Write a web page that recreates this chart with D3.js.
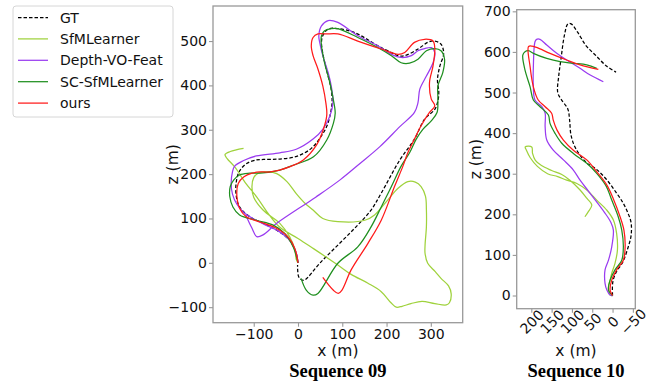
<!DOCTYPE html>
<html><head><meta charset="utf-8">
<script src="https://cdn.jsdelivr.net/npm/d3@7"></script>
<style>body{margin:0;background:#fff}svg{display:block}</style>
</head><body>
<svg id="chart" width="656" height="385"></svg>
<script>
// ---------- data ----------
const methods = ["GT", "SfMLearner", "Depth-VO-Feat", "SC-SfMLearner", "ours"];
const xTicks09 = [-100, 0, 100, 200, 300];
const zTicks09 = [-100, 0, 100, 200, 300, 400, 500];
const xTicks10 = [200, 150, 100, 50, 0, -50];
const zTicks10 = [0, 100, 200, 300, 400, 500, 600, 700];
const titles = ["Sequence 09", "Sequence 10"];

// Sequence 09 trajectories [x, z] in metres
const seq09_GT = [[0,0],[-4,21],[-19,51],[-49,74],[-79,89],[-109,104],[-132,126],[-140,155],[-139,185],[-132,207],[-116,224],[-94,232],[-78,233],[-41,234],[-3,240],[30,258],[52,285],[66,310],[74,340],[77,362],[75,391],[66,429],[57,467],[53,497],[56,512],[68,527],[90,528],[128,519],[181,489],[211,474],[226,467],[241,467],[271,482],[293,497],[309,500],[323,493],[329,472],[320,442],[315,412],[318,385],[316,365],[309,346],[286,324],[263,279],[230,232],[188,157],[165,119],[130,80],[90,40],[50,0],[14,-39],[6,-37],[1,-30],[-1,-5]];
const seq09_SfM = [[0,0],[-4,8],[-7,29],[-19,59],[-41,89],[-79,119],[-100,148],[-104,172],[-100,192],[-90,202],[-68,205],[-48,201],[-25,183],[-4,156],[15,135],[34,119],[56,100],[90,93],[151,96],[173,108],[203,142],[226,168],[248,183],[265,182],[278,172],[288,150],[290,120],[290,81],[287,40],[287,21],[293,-1],[310,-20],[323,-35],[340,-52],[346,-70],[342,-90],[335,-95],[309,-92],[280,-87],[255,-92],[235,-98],[222,-100],[210,-90],[188,-65],[158,-46],[120,-26],[90,-5],[35,32],[0,55],[-41,80],[-68,112],[-93,148],[-117,178],[-142,215],[-160,235],[-165,244],[-153,251],[-123,258]];
const seq09_DVF = [[0,0],[-4,22],[-18,50],[-45,72],[-75,86],[-102,100],[-122,113],[-138,132],[-148,155],[-151,180],[-148,205],[-143,218],[-124,230],[-94,241],[-41,248],[-4,256],[34,279],[56,301],[72,331],[79,361],[75,399],[68,429],[56,467],[49,497],[47,512],[53,534],[68,546],[90,542],[135,512],[181,489],[211,470],[233,463],[256,467],[271,478],[286,483],[301,485],[309,474],[305,451],[290,421],[275,391],[271,361],[263,339],[230,307],[185,262],[140,224],[95,187],[40,148],[-48,89],[-79,63],[-93,59],[-105,80],[-118,108]];
const seq09_SC = [[0,0],[-11,36],[-30,66],[-56,85],[-94,96],[-132,108],[-147,126],[-154,149],[-153,172],[-145,187],[-132,198],[-109,202],[-79,203],[-41,209],[-11,220],[35,239],[65,277],[80,315],[84,337],[80,367],[72,406],[60,451],[53,489],[53,512],[60,523],[75,528],[90,528],[135,508],[181,485],[211,467],[233,451],[252,450],[271,459],[290,478],[309,483],[323,478],[331,459],[327,429],[316,399],[316,369],[314,339],[301,320],[282,301],[267,279],[252,248],[233,218],[211,172],[188,126],[165,81],[135,36],[90,-1],[45,-69],[34,-73],[19,-62],[7,-35]];
const seq09_ours = [[0,0],[-7,32],[-23,59],[-49,78],[-86,92],[-117,104],[-132,123],[-138,149],[-135,179],[-122,194],[-104,202],[-86,205],[-63,205],[-18,217],[12,232],[42,266],[57,300],[65,333],[63,360],[56,399],[45,437],[34,467],[30,489],[34,508],[45,516],[64,516],[90,516],[135,500],[188,482],[226,470],[241,474],[263,497],[286,504],[305,500],[309,482],[305,444],[297,406],[301,369],[309,354],[297,339],[278,309],[263,279],[248,248],[237,218],[218,172],[188,96],[158,44],[120,-16],[99,-62],[91,-69],[80,-62],[56,-33]];

// Sequence 10 trajectories [x, z] in metres
const seq10_GT = [[0,0],[-0.5,32.5],[-8.6,57],[-25,82],[-37,114.5],[-45.5,147],[-45.5,180],[-37,205],[-25,229.5],[-8.6,254],[16,287],[40.6,311.6],[65,328],[90,361],[102,393.6],[106,434.7],[110,459],[127,484],[135,500],[132.5,541],[127,582.5],[118.7,640],[110,669],[102,669],[85.7,648],[65,615],[40.6,590.6],[16,566],[-8.6,550]];
const seq10_SfM = [[0,0],[6,1],[10,22],[6,38],[2,55],[-6,79],[-12,112],[-10,153],[-2,186],[14,210],[39,235],[63.5,260],[88,276],[113,284],[135,293],[160,300],[185,318],[203,340],[212,358],[215,366],[199,366],[197,350],[190,333],[175,320],[150,308],[125,298],[105,284],[80,260],[63,239],[51,223],[60,206],[68,194]];
const seq10_DVF = [[0,0],[6,1],[14,13.5],[18.5,30],[18.5,63],[10,87],[2,120],[-2,161],[4,180],[20,205],[40,232],[60,258],[80,284],[96.5,309],[121,334],[146,358],[162,383],[166,416],[166,449],[174,465],[191,481.5],[195,514],[195,563.5],[191,625],[187,631],[178.6,631],[162,617],[137.5,596.5],[113,580],[80,559.6],[55,543],[22.7,526.6]];
const seq10_SC = [[0,0],[10,13.5],[6,38],[-6,63],[-22.7,87],[-26.6,120],[-22.7,161],[-14,194],[2,235],[16,270],[39,301],[63.5,325.6],[96.5,350],[125,375],[141.6,399.5],[154,424],[158,444.6],[178.6,465],[195,481.5],[203,514],[215.5,555],[221,592],[215.5,600.5],[207,603],[195,596.5],[162,584],[129,576],[96.5,572],[63.5,568],[39,559.6]];
const seq10_ours = [[0,0],[6,13.5],[2,38],[-10,63],[-26.6,87],[-31,120],[-28,161],[-18.5,194],[-2,238],[14,272],[39,305],[63.5,334],[96.5,358],[121,383],[137,408],[146,432],[150,449],[166,465],[183,481.5],[195,514],[203,563.5],[207,613],[199,614.5],[187,611],[154,596.5],[113,580],[80,568],[35,557]];

// ---------- styles ----------
const colors = {"GT":"#000000","SfMLearner":"#9fd23c","Depth-VO-Feat":"#9a3cf0","SC-SfMLearner":"#1f8f1f","ours":"#ff1a1a"};
const dashes = {"GT":"3.5,2"};
const FONT = "DejaVu Sans, sans-serif";

const svg = d3.select("#chart");

const panels = [
  {id:"p09", xDom:[-192,372], xRng:[213,462.7], zDom:[-135,579], zRng:[322.7,6],
   xt:xTicks09, zt:zTicks09, series:[seq09_GT,seq09_SfM,seq09_DVF,seq09_SC,seq09_ours],
   title:titles[0], rotate:false, zLabelX:178},
  {id:"p10", xDom:[236,-56], xRng:[516.7,635.3], zDom:[-32.5,704], zRng:[308.7,9.7],
   xt:xTicks10, zt:zTicks10, series:[seq10_GT,seq10_SfM,seq10_DVF,seq10_SC,seq10_ours],
   title:titles[1], rotate:true, zLabelX:481}
];

panels.forEach(p => {
  const x = d3.scaleLinear().domain(p.xDom).range(p.xRng);
  const z = d3.scaleLinear().domain(p.zDom).range(p.zRng);
  const g = svg.append("g");
  const left = p.xRng[0], right = p.xRng[1], top = p.zRng[1], bottom = p.zRng[0];

  g.append("clipPath").attr("id","clip-"+p.id).append("rect")
    .attr("x",left).attr("y",top).attr("width",right-left).attr("height",bottom-top);

  const line = d3.line().x(d=>x(d[0])).y(d=>z(d[1])).curve(d3.curveCatmullRom.alpha(0.5));
  const plot = g.append("g").attr("clip-path","url(#clip-"+p.id+")");
  p.series.forEach((s,i) => {
    const m = methods[i];
    plot.append("path").datum(s).attr("d",line)
      .attr("fill","none").attr("stroke",colors[m]).attr("stroke-width",1.25)
      .attr("stroke-dasharray",dashes[m]||null).attr("stroke-linejoin","round");
  });

  // frame
  g.append("rect").attr("x",left).attr("y",top).attr("width",right-left).attr("height",bottom-top)
    .attr("fill","none").attr("stroke","#999").attr("stroke-width",1.3);

  // axes
  const xa = g.append("g").attr("transform",`translate(0,${bottom})`)
    .call(d3.axisBottom(x).tickValues(p.xt).tickSize(4).tickPadding(2));
  const za = g.append("g").attr("transform",`translate(${left},0)`)
    .call(d3.axisLeft(z).tickValues(p.zt).tickSize(4).tickPadding(2));
  [xa,za].forEach(a => {
    a.select(".domain").remove();
    a.selectAll(".tick line").attr("stroke","#999").attr("stroke-width",1.1);
    a.selectAll(".tick text").attr("fill","#111").style("font-family",FONT).style("font-size","14px");
  });
  if (p.rotate) {
    xa.selectAll(".tick text")
      .attr("text-anchor","middle").attr("dy",null).attr("y",0)
      .attr("dominant-baseline","central")
      .attr("transform","translate(0,13) rotate(-45)");
  }

  // axis labels
  g.append("text").attr("x",(left+right)/2).attr("y",356).attr("text-anchor","middle")
    .style("font-family",FONT).style("font-size","15.5px").attr("fill","#111").text("x (m)");
  g.append("text").attr("transform",`translate(${p.zLabelX},${(top+bottom)/2}) rotate(-90)`)
    .attr("text-anchor","middle").style("font-family",FONT).style("font-size","15.5px")
    .attr("fill","#111").text("z (m)");
  // title
  g.append("text").attr("x",(left+right)/2).attr("y",377).attr("text-anchor","middle")
    .style("font-family","Liberation Serif, Times New Roman, serif").style("font-weight","bold")
    .style("font-size","18.5px").attr("fill","#000").text(p.title);
});

// legend
const lg = svg.append("g");
lg.append("rect").attr("x",13).attr("y",6).attr("width",160).attr("height",111).attr("rx",3)
  .attr("fill","#fff").attr("stroke","#d6d6d6").attr("stroke-width",1);
methods.forEach((m,i) => {
  const y = 17.5 + i*21.4;
  lg.append("line").attr("x1",18).attr("x2",48).attr("y1",y).attr("y2",y)
    .attr("stroke",colors[m]).attr("stroke-width",1.25).attr("stroke-dasharray",dashes[m]||null);
  lg.append("text").attr("x",60).attr("y",y).attr("dy","0.36em")
    .style("font-family",FONT).style("font-size","14px").attr("fill","#111").text(m);
});
</script>
</body></html>
